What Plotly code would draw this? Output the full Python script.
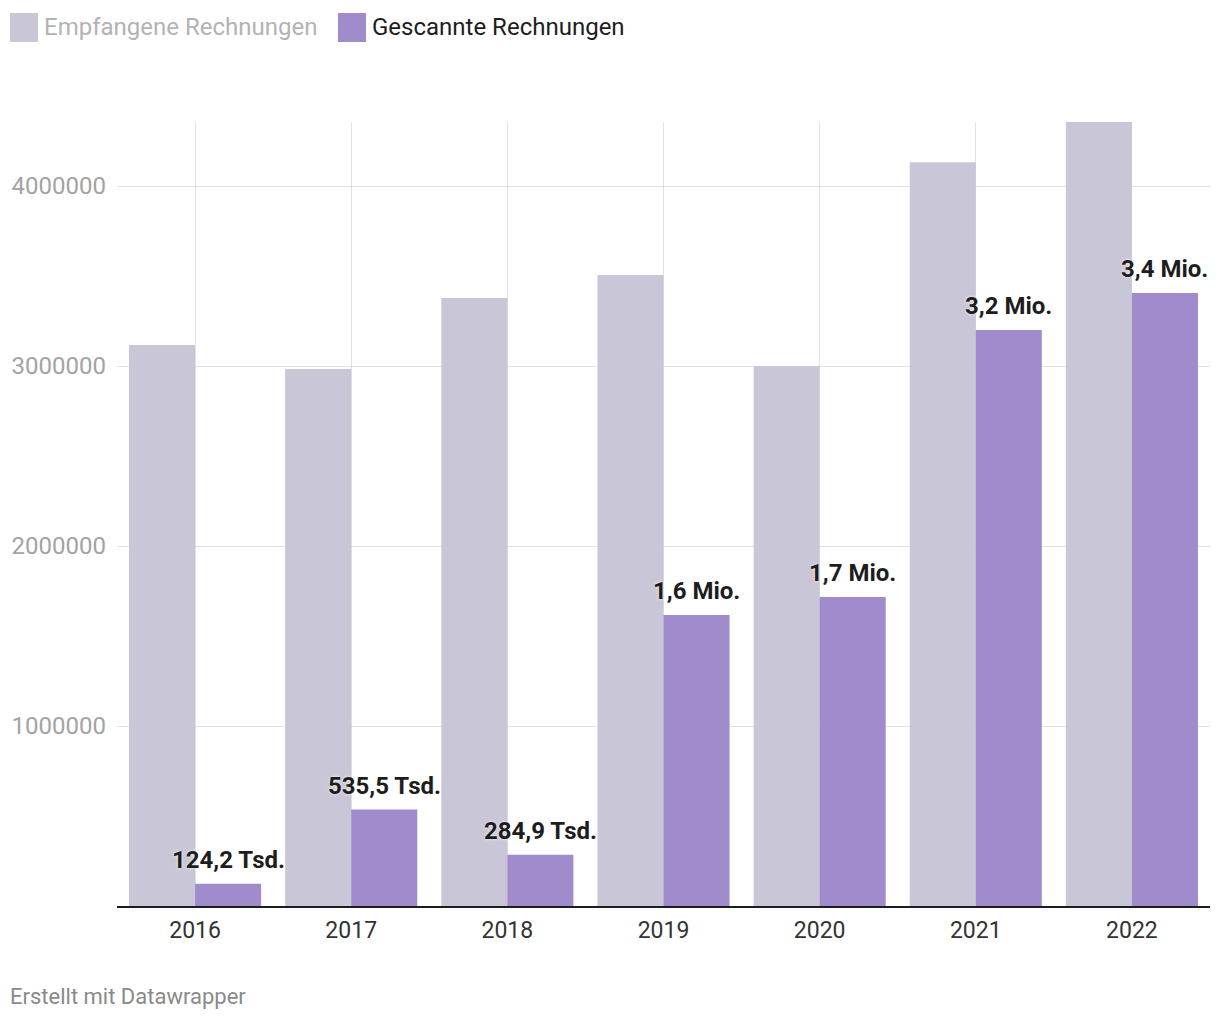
import plotly.graph_objects as go

years = ["2016", "2017", "2018", "2019", "2020", "2021", "2022"]
received = [3117000, 2983000, 3378000, 3506000, 3000000, 4133000, 4356000]
scanned = [124200, 535500, 284900, 1617000, 1717000, 3200000, 3406000]
y_ticks = [1000000, 2000000, 3000000, 4000000]
series_names = ["Empfangene Rechnungen", "Gescannte Rechnungen"]
colors = ["#c9c6d8", "#a08ccc"]


def fmt(v):
    if v < 1e6:
        return f"{v/1000:.1f}".replace(".", ",") + " Tsd."
    return f"{v/1e6:.1f}".replace(".", ",") + " Mio."


FONT = "Roboto"

fig = go.Figure()
fig.add_trace(go.Bar(x=years, y=received, name=series_names[0],
                     marker=dict(color=colors[0], line=dict(width=0)),
                     hoverinfo="skip"))
fig.add_trace(go.Bar(x=years, y=scanned, name=series_names[1],
                     marker=dict(color=colors[1], line=dict(width=0)),
                     hoverinfo="skip"))

annotations = []
for i, v in enumerate(scanned):
    annotations.append(dict(
        x=i, y=v, xref="x", yref="y", text=fmt(v), showarrow=False,
        xshift=33, yshift=8, yanchor="bottom", xanchor="center",
        font=dict(family=FONT, size=24, color="#1d1d1d", weight="bold",
                  shadow="0px 0px 3px white"),
    ))

# legend
legend_x = [10, 338]
legend_colors = ["#b3b3b3", "#1d1d1d"]
shapes = []
for i, name in enumerate(series_names):
    x0 = legend_x[i]
    shapes.append(dict(type="rect", xref="paper", yref="paper",
                       x0=(x0 - 117) / 1093, x1=(x0 + 28 - 117) / 1093,
                       y0=(1020 - 114 - 42) / 784, y1=(1020 - 114 - 13) / 784,
                       fillcolor=colors[i], line=dict(width=0), layer="above"))
    annotations.append(dict(
        x=(x0 + 32 - 117) / 1093, y=(1020 - 114 - 27) / 784, xref="paper", yref="paper",
        text=name, showarrow=False, xanchor="left", yanchor="middle",
        font=dict(family=FONT, size=24, color=legend_colors[i]),
    ))

annotations.append(dict(
    x=(8 - 117) / 1093, y=(1020 - 114 - 996) / 784, xref="paper", yref="paper",
    text="Erstellt mit Datawrapper", showarrow=False, xanchor="left", yanchor="middle",
    font=dict(family=FONT, size=22, color="#8a8a8a"),
))

fig.update_layout(
    width=1220, height=1020,
    margin=dict(l=117, r=10, t=122, b=114),
    paper_bgcolor="white", plot_bgcolor="white",
    barmode="group", bargap=0.154, bargroupgap=0,
    showlegend=False,
    font=dict(family=FONT),
    annotations=annotations, shapes=shapes,
    xaxis=dict(type="category", range=[-0.5, len(years) - 0.5], autorange=False,
               showgrid=True, gridcolor="rgba(0,0,0,0.11)", gridwidth=1,
               layer="above traces", showline=True, linecolor="#1d1d1d", linewidth=2,
               ticks="", ticklabelstandoff=2,
               tickfont=dict(family=FONT, size=23, color="#333333"), fixedrange=True),
    yaxis=dict(range=[0, 4356000], autorange=False, tickvals=y_ticks,
               ticktext=[str(v) for v in y_ticks],
               showgrid=True, gridcolor="rgba(0,0,0,0.11)", gridwidth=1, zeroline=False,
               layer="above traces", ticks="", ticklabelstandoff=10,
               tickfont=dict(family=FONT, size=24, color="#a3a3a3"), fixedrange=True),
)

fig.write_html("out.html")
